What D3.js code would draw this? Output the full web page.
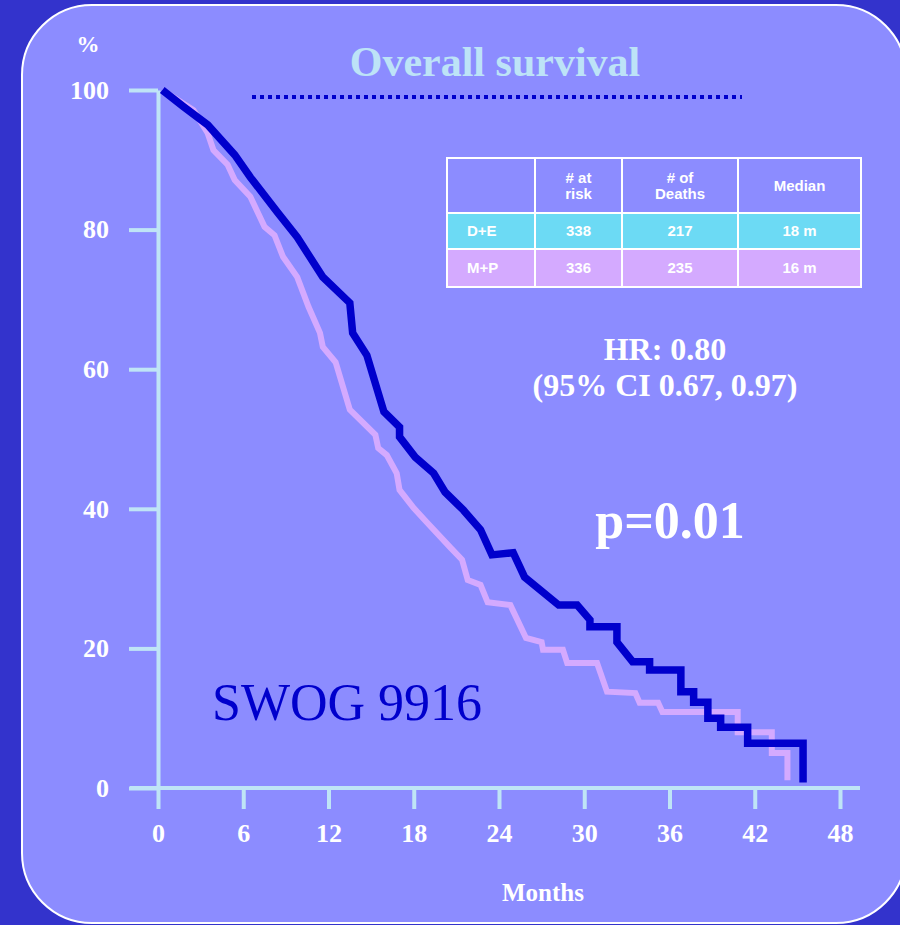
<!DOCTYPE html>
<meta charset="utf-8">
<style>
body { margin: 0; background: #3333cc; }
svg { display: block; }
.serif { font-family: "Liberation Serif", "Times New Roman", serif; font-weight: bold; fill: #fff; }
.tbl { font-family: "Liberation Sans", Arial, sans-serif; font-weight: bold; fill: #fff; font-size: 15px; }
.axis path, .axis line { stroke: #bfe4f6; }
</style>
<svg width="900" height="925"></svg>
<script src="https://d3js.org/d3.v7.min.js"></script>
<script>

// survival curves (months, % surviving)
var deMonths = [0.3, 1.8, 3.5, 5.4, 6.5, 8.4, 9.8, 11.6, 13.5, 13.7, 14.7, 15.9, 17.0, 17.0, 18.1, 19.4, 20.2, 21.5, 22.7, 23.5, 25.0, 25.8, 28.2, 29.5, 30.4, 30.4, 32.3, 32.3, 33.4, 34.6, 34.6, 36.8, 36.8, 37.7, 37.7, 38.7, 38.7, 39.6, 39.6, 41.5, 41.5, 45.4, 45.4];
var deSurv   = [100, 97.6, 95.0, 90.7, 87.5, 82.5, 78.9, 73.2, 69.5, 65.2, 62.0, 53.9, 51.7, 50.3, 47.4, 45.1, 42.4, 39.8, 37.0, 33.4, 33.7, 30.2, 26.2, 26.2, 24.1, 23.1, 23.1, 20.9, 18.1, 18.1, 16.9, 16.9, 13.8, 13.8, 12.3, 12.3, 10.0, 10.0, 8.7, 8.7, 6.4, 6.4, 0.8];

var mpMonths = [0.3, 2.5, 3.5, 3.9, 4.9, 5.4, 6.5, 7.5, 8.2, 8.8, 9.8, 10.6, 11.4, 11.6, 12.5, 13.5, 15.3, 15.5, 16.1, 16.8, 17.0, 18.0, 18.9, 20.6, 21.4, 21.8, 22.7, 23.2, 24.8, 25.9, 27.0, 27.1, 28.5, 28.8, 30.9, 31.6, 33.6, 33.9, 35.2, 35.5, 40.8, 40.8, 43.2, 43.2, 44.3, 44.3];
var mpSurv   = [100, 97.1, 93.8, 91.4, 89.3, 87.1, 84.7, 80.4, 79.2, 76.1, 73.2, 68.9, 65.2, 63.2, 61.0, 54.2, 50.6, 48.7, 47.7, 45.1, 42.7, 40.1, 38.1, 34.4, 32.7, 29.8, 29.1, 26.6, 26.2, 21.5, 20.9, 19.8, 19.8, 17.9, 17.9, 13.8, 13.6, 12.2, 12.2, 10.9, 10.9, 8.0, 8.0, 5.0, 5.0, 1.1];

var xTicks = [0, 6, 12, 18, 24, 30, 36, 42, 48];
var yTicks = [0, 20, 40, 60, 80, 100];

// summary table
var tableHeader = [[""], ["# at", "risk"], ["# of", "Deaths"], ["Median"]];
var arms     = ["D+E", "M+P"];
var atRisk   = [338, 336];
var deaths   = [217, 235];
var medians  = ["18 m", "16 m"];
var armFill  = ["#6cdaf4", "#d4aaff"];

var svg = d3.select("svg");

svg.append("rect")
    .attr("x", 22).attr("y", 5)
    .attr("width", 884).attr("height", 918)
    .attr("rx", 70).attr("ry", 70)
    .attr("fill", "#8c8cff")
    .attr("stroke", "#fff")
    .attr("stroke-width", 2);

var x = d3.scaleLinear().domain([0, 48]).range([158, 840]);
var y = d3.scaleLinear().domain([0, 100]).range([788, 90]);

// title
svg.append("text")
    .attr("class", "serif")
    .attr("x", 495).attr("y", 76)
    .attr("text-anchor", "middle")
    .style("font-size", "42px")
    .style("fill", "#bde3f7")
    .text("Overall survival");

svg.append("line")
    .attr("x1", 252).attr("x2", 742)
    .attr("y1", 97).attr("y2", 97)
    .attr("stroke", "#0000cc")
    .attr("stroke-width", 4)
    .attr("stroke-dasharray", "4,4");

// axes
var yAxis = svg.append("g")
    .attr("class", "axis")
    .attr("transform", "translate(158,0)")
    .call(d3.axisLeft(y).tickValues(yTicks).tickSize(29).tickSizeOuter(0).tickPadding(20));

var xAxis = svg.append("g")
    .attr("class", "axis")
    .attr("transform", "translate(0,788)")
    .call(d3.axisBottom(x).tickValues(xTicks).tickSize(21).tickSizeOuter(0).tickPadding(15));

xAxis.select(".domain").remove();
xAxis.append("line")
    .attr("x1", 130).attr("x2", 860)
    .attr("stroke", "#bfe4f6")
    .attr("stroke-width", 4);

svg.selectAll(".axis line").attr("stroke-width", 4);
svg.selectAll(".axis .domain").attr("stroke-width", 4);
svg.selectAll(".axis text")
    .attr("class", "serif")
    .attr("fill", null)
    .style("font-size", "26px");

svg.append("text")
    .attr("class", "serif")
    .attr("x", 88).attr("y", 52)
    .attr("text-anchor", "middle")
    .style("font-size", "23px")
    .text("%");

svg.append("text")
    .attr("class", "serif")
    .attr("x", 543).attr("y", 901)
    .attr("text-anchor", "middle")
    .style("font-size", "25px")
    .text("Months");

// curves
var line = d3.line()
    .x(function(d) { return x(d[0]); })
    .y(function(d) { return y(d[1]); });

svg.append("path")
    .datum(d3.zip(mpMonths, mpSurv))
    .attr("d", line)
    .attr("fill", "none")
    .attr("stroke", "#d4aaff")
    .attr("stroke-width", 6);

svg.append("path")
    .datum(d3.zip(deMonths, deSurv))
    .attr("d", line)
    .attr("fill", "none")
    .attr("stroke", "#0000cc")
    .attr("stroke-width", 7.5);

// table
var colX = [447, 535, 622, 738, 861];
var rowY = [158, 213, 249, 287];
var table = svg.append("g");

tableHeader.forEach(function(lines, i) {
  table.append("rect")
      .attr("x", colX[i]).attr("y", rowY[0])
      .attr("width", colX[i + 1] - colX[i]).attr("height", rowY[1] - rowY[0])
      .attr("fill", "#8c8cff").attr("stroke", "#fff").attr("stroke-width", 2);
  var cx = (colX[i] + colX[i + 1]) / 2,
      cy = (rowY[0] + rowY[1]) / 2;
  lines.forEach(function(s, j) {
    table.append("text")
        .attr("class", "tbl")
        .attr("x", cx)
        .attr("y", cy + 5 + (j - (lines.length - 1) / 2) * 16)
        .attr("text-anchor", "middle")
        .text(s);
  });
});

arms.forEach(function(arm, r) {
  var cells = [arm, atRisk[r], deaths[r], medians[r]];
  cells.forEach(function(v, i) {
    table.append("rect")
        .attr("x", colX[i]).attr("y", rowY[r + 1])
        .attr("width", colX[i + 1] - colX[i]).attr("height", rowY[r + 2] - rowY[r + 1])
        .attr("fill", armFill[r]).attr("stroke", "#fff").attr("stroke-width", 2);
    table.append("text")
        .attr("class", "tbl")
        .attr("x", i === 0 ? colX[0] + 20 : (colX[i] + colX[i + 1]) / 2)
        .attr("y", (rowY[r + 1] + rowY[r + 2]) / 2 + 5)
        .attr("text-anchor", i === 0 ? "start" : "middle")
        .text(v);
  });
});

// annotations
svg.append("text")
    .attr("class", "serif")
    .attr("x", 665).attr("y", 360)
    .attr("text-anchor", "middle")
    .style("font-size", "32px")
    .text("HR: 0.80");

svg.append("text")
    .attr("class", "serif")
    .attr("x", 665).attr("y", 396)
    .attr("text-anchor", "middle")
    .style("font-size", "32px")
    .text("(95% CI 0.67, 0.97)");

svg.append("text")
    .attr("class", "serif")
    .attr("x", 670).attr("y", 538)
    .attr("text-anchor", "middle")
    .style("font-size", "52px")
    .text("p=0.01");

svg.append("text")
    .attr("x", 212).attr("y", 720)
    .style("font-family", "'Liberation Serif', 'Times New Roman', serif")
    .style("font-size", "52px")
    .attr("fill", "#0000cc")
    .text("SWOG 9916");

</script>
